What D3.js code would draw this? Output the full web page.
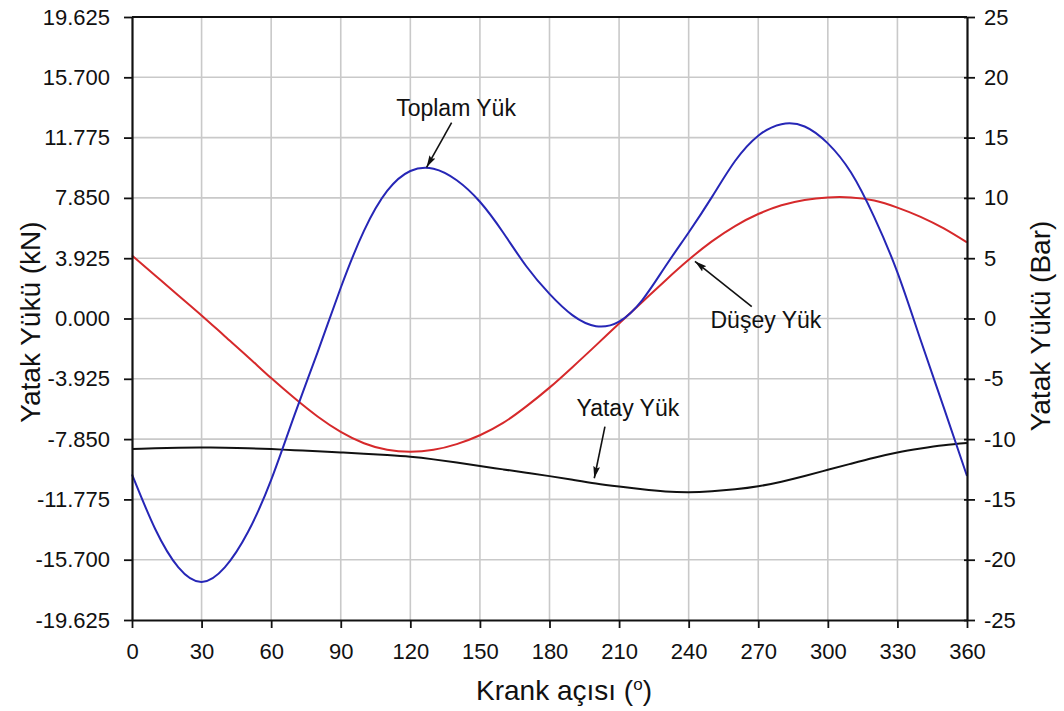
<!DOCTYPE html>
<html>
<head>
<meta charset="utf-8">
<script src="https://cdn.jsdelivr.net/npm/d3@7"></script>
<style>
  html, body { margin: 0; padding: 0; background: #fff; }
  svg { display: block; font-family: "Liberation Sans", Arial, sans-serif; }
</style>
</head>
<body>
<svg id="chart" width="1064" height="711"></svg>
<script>
// Crank angle samples (degrees)
const angles = [0,10,20,30,40,50,60,70,80,90,100,110,120,130,140,150,160,170,180,
                190,200,210,220,230,240,250,260,270,280,290,300,310,320,330,340,350,360];

// Bearing loads in kN
const toplamYuk = [-10.15,-13.7,-16.2,-17.15,-16.2,-13.9,-10.5,-6.3,-2.2,2.0,5.7,8.3,9.6,9.75,
                   9.0,7.6,5.6,3.4,1.6,0.2,-0.5,-0.2,1.2,3.4,5.6,7.9,10.25,11.9,12.65,12.5,
                   11.4,9.5,6.6,3.0,-1.4,-5.8,-10.25];
const duseyYuk  = [4.10,2.80,1.50,0.20,-1.15,-2.50,-3.88,-5.18,-6.38,-7.38,-8.12,-8.55,-8.68,
                   -8.55,-8.18,-7.60,-6.80,-5.72,-4.50,-3.15,-1.75,-0.32,1.08,2.48,3.82,5.02,
                   6.02,6.80,7.37,7.72,7.88,7.88,7.68,7.22,6.62,5.86,4.95];
const yatayYuk  = [-8.50,-8.45,-8.41,-8.40,-8.41,-8.44,-8.50,-8.57,-8.64,-8.72,-8.80,-8.89,-9.00,
                   -9.17,-9.38,-9.60,-9.82,-10.04,-10.26,-10.50,-10.74,-10.94,-11.12,-11.26,-11.31,
                   -11.25,-11.12,-10.92,-10.62,-10.25,-9.85,-9.45,-9.06,-8.72,-8.46,-8.25,-8.11];

// Axis ticks
const xTicks = [0,30,60,90,120,150,180,210,240,270,300,330,360];
const kNTicks = [-19.625,-15.7,-11.775,-7.85,-3.925,0,3.925,7.85,11.775,15.7,19.625];
const barTicks = [-25,-20,-15,-10,-5,0,5,10,15,20,25];

// Curve labels: text, label centre (angle, kN), arrow tail and tip (angle, kN)
const labels = [
  {text: "Toplam Yük", at: [139.7, 13.7],  tail: [137.8, 12.75], tip: [127.0, 9.84]},
  {text: "Düşey Yük",  at: [273.3, -0.1],  tail: [267.2, 0.77],  tip: [242.7, 3.72]},
  {text: "Yatay Yük",  at: [213.8, -5.83], tail: [203.9, -7.04], tip: [199.3, -10.4]}
];

const svg = d3.select("#chart");
const m = {left: 132, right: 967, top: 17, bottom: 620};

const x = d3.scaleLinear().domain([0, 360]).range([m.left, m.right]);
const y = d3.scaleLinear().domain([-19.625, 19.625]).range([m.bottom, m.top]);
const yBar = d3.scaleLinear().domain([-25, 25]).range([m.bottom, m.top]);

// Plain hyphen for negative tick labels
const hyphen = f => d => f(d).replace("−", "-");

// Grid
const grid = svg.append("g").attr("stroke", "#c9c9c9").attr("stroke-width", 1.6);
grid.selectAll("line.v").data(xTicks.slice(1, -1)).join("line")
  .attr("x1", d => x(d)).attr("x2", d => x(d)).attr("y1", m.top).attr("y2", m.bottom);
grid.selectAll("line.h").data(kNTicks.slice(1, -1)).join("line")
  .attr("x1", m.left).attr("x2", m.right).attr("y1", d => y(d)).attr("y2", d => y(d));

// Series
const series = [
  {values: yatayYuk, color: "#111111"},
  {values: duseyYuk, color: "#d6292b"},
  {values: toplamYuk, color: "#2626b6"}
];
const line = d3.line().x(d => x(d[0])).y(d => y(d[1])).curve(d3.curveNatural);
svg.append("g").selectAll("path").data(series).join("path")
  .attr("d", s => line(angles.map((a, i) => [a, s.values[i]])))
  .attr("fill", "none").attr("stroke", s => s.color).attr("stroke-width", 2);

// Axes
const fs = 22;
const xAxis = svg.append("g").attr("transform", `translate(0,${m.bottom})`)
  .call(d3.axisBottom(x).tickValues(xTicks).tickSize(8).tickPadding(15).tickSizeOuter(0));
const yAxis = svg.append("g").attr("transform", `translate(${m.left},0)`)
  .call(d3.axisLeft(y).tickValues(kNTicks).tickFormat(hyphen(d3.format(".3f"))).tickSize(8).tickPadding(14).tickSizeOuter(0));
const yAxisR = svg.append("g").attr("transform", `translate(${m.right},0)`)
  .call(d3.axisRight(yBar).tickValues(barTicks).tickFormat(hyphen(d3.format("d"))).tickSize(8).tickPadding(9).tickSizeOuter(0));
[xAxis, yAxis, yAxisR].forEach(a => {
  a.selectAll("path.domain").attr("stroke", "#111").attr("stroke-width", 2.2);
  a.selectAll(".tick line").attr("stroke", "#111").attr("stroke-width", 1.8);
  a.selectAll("text").attr("font-size", fs).attr("fill", "#111")
    .attr("font-family", "Liberation Sans, Arial, sans-serif");
});
// Right-axis ticks also reach slightly inside the frame
yAxisR.selectAll(".tick line").attr("x1", -3);
// Top frame line
svg.append("line").attr("x1", m.left).attr("x2", m.right).attr("y1", m.top).attr("y2", m.top)
  .attr("stroke", "#111").attr("stroke-width", 2.2);

// Axis titles
const tfs = 28;
svg.append("text").attr("x", 564).attr("y", 700)
  .attr("text-anchor", "middle").attr("font-size", tfs).attr("fill", "#111")
  .html('Krank açısı (<tspan dy="-10" font-size="17">o</tspan><tspan dy="10">)</tspan>');
svg.append("text").attr("transform", "translate(40,322) rotate(-90)")
  .attr("text-anchor", "middle").attr("font-size", tfs).attr("fill", "#111")
  .text("Yatak Yükü (kN)");
svg.append("text").attr("transform", "translate(1050,326) rotate(-90)")
  .attr("text-anchor", "middle").attr("font-size", tfs).attr("fill", "#111")
  .text("Yatak Yükü (Bar)");

// Arrow head marker
svg.append("defs").append("marker")
  .attr("id", "arrow").attr("viewBox", "0 0 12 8").attr("refX", 12).attr("refY", 4)
  .attr("markerWidth", 12).attr("markerHeight", 8).attr("markerUnits", "userSpaceOnUse")
  .attr("orient", "auto")
  .append("path").attr("d", "M0,0.6 L12,4 L0,7.4 L2,4 Z").attr("fill", "#111");

// Curve annotations
const ann = svg.append("g");
ann.selectAll("line").data(labels).join("line")
  .attr("x1", d => x(d.tail[0])).attr("y1", d => y(d.tail[1]))
  .attr("x2", d => x(d.tip[0])).attr("y2", d => y(d.tip[1]))
  .attr("stroke", "#111").attr("stroke-width", 1.6).attr("marker-end", "url(#arrow)");
ann.selectAll("text").data(labels).join("text")
  .attr("x", d => x(d.at[0])).attr("y", d => y(d.at[1]))
  .attr("text-anchor", "middle").attr("dominant-baseline", "central")
  .attr("font-size", 23).attr("fill", "#111").text(d => d.text);
</script>
</body>
</html>
